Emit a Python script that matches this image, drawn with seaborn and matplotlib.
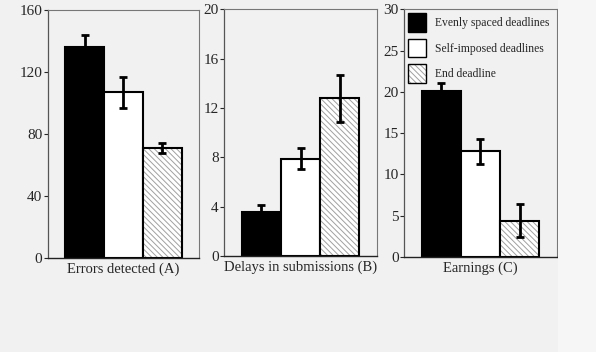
import matplotlib
matplotlib.use("Agg")
import matplotlib.pyplot as plt
from matplotlib.patches import Rectangle, Patch
from matplotlib.legend_handler import HandlerTuple
import seaborn as sns
import pandas as pd

# values
conditions = ["Evenly spaced deadlines", "Self-imposed deadlines", "End deadline"]
panels = ["Errors detected (A)", "Delays in submissions (B)", "Earnings (C)"]
errors_mean = [136, 107, 71]
errors_err = [8, 10, 3.5]
delays_mean = [3.6, 7.9, 12.8]
delays_err = [0.5, 0.85, 1.9]
earnings_mean = [20.1, 12.8, 4.4]
earnings_err = [1.0, 1.5, 2.0]
ylims = [160, 20, 30]
yticks = [[0, 40, 80, 120, 160], [0, 4, 8, 12, 16, 20], [0, 5, 10, 15, 20, 25, 30]]

means = [errors_mean, delays_mean, earnings_mean]
errs = [errors_err, delays_err, earnings_err]

sns.set_style("white")
plt.rcParams["font.family"] = ["Liberation Serif", "DejaVu Serif"]
plt.rcParams["hatch.linewidth"] = 0.7

bg = "#f1f1f1"
hatch = "\\\\\\\\\\\\"
hatch_col = "#a0a0a0"

fig = plt.figure(figsize=(5.96, 3.52), dpi=100, facecolor=bg)
# slightly lighter strip on the right edge of the scan
fig.patches.append(Rectangle((0.937, 0), 0.063, 1, transform=fig.transFigure,
                             facecolor="#f6f6f6", edgecolor="none", zorder=0))
boxes = [
    [0.0805, 0.267, 0.2534, 0.7046],
    [0.376, 0.2727, 0.2567, 0.7009],
    [0.678, 0.270, 0.256, 0.7036],
]
colors = ["black", "white", "white"]

for i, panel in enumerate(panels):
    ax = fig.add_axes(boxes[i], facecolor=bg)
    df = pd.DataFrame({"panel": panel, "condition": conditions, "value": means[i]})
    sns.barplot(data=df, x="panel", y="value", hue="condition", hue_order=conditions,
                palette=colors, width=0.77, edgecolor="black", linewidth=1.5,
                errorbar=None, legend=False, ax=ax)
    bars = [p for p in ax.patches if p.get_height() > 0][:3]
    # hatch colour follows the edge colour, so hatch in grey and outline on top
    hb = bars[2]
    hb.set_hatch(hatch)
    hb.set_edgecolor(hatch_col)
    hb.set_linewidth(0)
    ax.add_patch(Rectangle(hb.get_xy(), hb.get_width(), hb.get_height(),
                           facecolor="none", edgecolor="black", linewidth=1.5,
                           zorder=hb.get_zorder() + 0.1))
    xs = [b.get_x() + b.get_width() / 2 for b in bars]
    hs = [b.get_height() for b in bars]
    ax.errorbar(xs, hs, yerr=errs[i], fmt="none", ecolor="black",
                elinewidth=2, capsize=3, capthick=2, zorder=5)
    ax.set_xlim(-0.5, 0.5)
    ax.set_ylim(0, ylims[i])
    ax.set_yticks(yticks[i])
    ax.set_ylabel("")
    ax.set_xlabel("")
    ax.tick_params(axis="x", length=0, pad=3, labelsize=10.5)
    ax.tick_params(axis="y", left=True, length=3, width=0.8, direction="out",
                   pad=1, labelsize=11)
    for side in ["top", "right"]:
        ax.spines[side].set_color("#777777")
        ax.spines[side].set_linewidth(0.8)
    ax.spines["left"].set_color("#555555")
    ax.spines["left"].set_linewidth(0.9)
    ax.spines["bottom"].set_color("#222222")
    ax.spines["bottom"].set_linewidth(1.0)
    if i == 2:
        handles = [
            Patch(facecolor="black", edgecolor="black", linewidth=1.0),
            Patch(facecolor="white", edgecolor="black", linewidth=1.0),
            (Patch(facecolor="white", edgecolor=hatch_col, linewidth=0, hatch=hatch),
             Patch(facecolor="none", edgecolor="black", linewidth=1.0)),
        ]
        ax.legend(handles=handles, labels=conditions, loc="upper left", frameon=False,
                  fontsize=8.4, handlelength=1.5, handleheight=2.05, labelspacing=0.6,
                  handletextpad=0.8, borderaxespad=0.0, borderpad=0.35,
                  handler_map={tuple: HandlerTuple(ndivide=1, pad=0)})

fig.savefig("out.png", dpi=100, facecolor=bg)
